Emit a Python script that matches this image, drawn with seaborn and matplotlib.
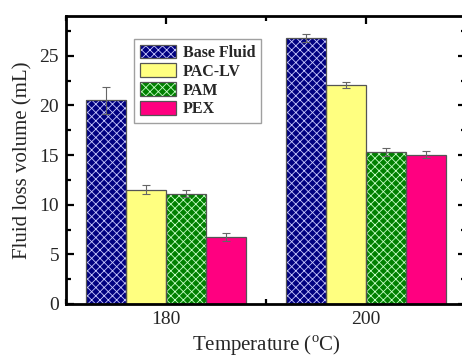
import matplotlib
matplotlib.use("Agg")
import matplotlib.pyplot as plt
import seaborn as sns
import pandas as pd
from matplotlib.patches import Rectangle, Patch
from matplotlib.ticker import MultipleLocator

temperatures = ["180", "200"]
fluids = ["Base Fluid", "PAC-LV", "PAM", "PEX"]
base_fluid = [20.5, 26.8]
pac_lv = [11.5, 22.1]
pam = [11.1, 15.35]
pex = [6.7, 15.05]
base_fluid_err = [1.4, 0.4]
pac_lv_err = [0.45, 0.3]
pam_err = [0.35, 0.4]
pex_err = [0.4, 0.35]

colors = ["#000080", "#FFFF80", "#008000", "#FF0080"]
hatches = ["xxxx", "", "xxxx", ""]

values = [base_fluid, pac_lv, pam, pex]
errors = [base_fluid_err, pac_lv_err, pam_err, pex_err]

rows = []
for f, vals in zip(fluids, values):
    for t, v in zip(temperatures, vals):
        rows.append({"Temperature": t, "Fluid": f, "Volume": v})
df = pd.DataFrame(rows)

sns.set_style("ticks")
plt.rcParams["font.family"] = ["Liberation Serif", "DejaVu Serif"]
plt.rcParams["mathtext.fontset"] = "custom"
plt.rcParams["mathtext.rm"] = "Liberation Serif"
plt.rcParams["hatch.linewidth"] = 0.6

fig = plt.figure(figsize=(4.62, 3.59), dpi=100)
ax = fig.add_axes([66/462, 1-304/359, 400/462, 288/359])

sns.barplot(data=df, x="Temperature", y="Volume", hue="Fluid", order=temperatures,
            hue_order=fluids, palette=colors, errorbar=None, legend=False,
            saturation=1, width=0.8, ax=ax, linewidth=0)

edge = "#555555"
hatch_cols = ["#c8c8ff", None, "#c8ffc8", None]
bar_containers = list(ax.containers)
for i, cont in enumerate(bar_containers):
    for j, p in enumerate(cont.patches):
        p.set_facecolor(colors[i])
        if hatches[i]:
            p.set_hatch(hatches[i])
            p.set_edgecolor(hatch_cols[i])
        else:
            p.set_edgecolor(colors[i])
        p.set_linewidth(0)
        ax.add_patch(Rectangle(p.get_xy(), p.get_width(), p.get_height(),
                               fill=False, edgecolor=edge, linewidth=0.9, zorder=p.get_zorder()+0.1))
        xc = p.get_x() + p.get_width()/2
        ax.errorbar(xc, p.get_height(), yerr=errors[i][j], fmt="none", ecolor="#666666",
                    elinewidth=0.8, capsize=3, capthick=0.8, zorder=5)

ax.set_xlim(-0.5, 1.5)
ax.set_ylim(0, 29)
ax.yaxis.set_major_locator(MultipleLocator(5))
ax.yaxis.set_minor_locator(MultipleLocator(2.5))
ax.xaxis.set_minor_locator(MultipleLocator(0.5))
ax.tick_params(axis="both", which="both", direction="in", top=True, right=True,
               width=1.6, color="black")
ax.tick_params(axis="both", which="major", length=6, labelsize=14, pad=5)
ax.tick_params(axis="both", which="minor", length=3.5)
for s in ax.spines.values():
    s.set_linewidth(2)
    s.set_color("black")

ax.set_xlabel(r"Temperature ($^\mathrm{o}$C)", fontsize=15, labelpad=4)
ax.set_ylabel("Fluid loss volume (mL)", fontsize=15, labelpad=5)

handles = []
for i, (c, h) in enumerate(zip(colors, hatches)):
    if h:
        fill = Patch(facecolor=c, hatch=h, edgecolor=hatch_cols[i], linewidth=0)
    else:
        fill = Patch(facecolor=c, edgecolor=c, linewidth=0)
    outline = Patch(facecolor="none", edgecolor=edge, linewidth=0.9)
    handles.append((fill, outline))

leg = ax.legend(handles, fluids, loc="upper left", bbox_to_anchor=(0.17, 0.92),
                borderaxespad=0, fancybox=False, frameon=True, edgecolor="#888888",
                prop={"weight": "bold", "size": 11.5}, handlelength=2.3, handleheight=0.95,
                labelspacing=0.15, handletextpad=0.4, borderpad=0.35)
leg.get_frame().set_linewidth(1.0)

fig.savefig("out.png", dpi=100)
